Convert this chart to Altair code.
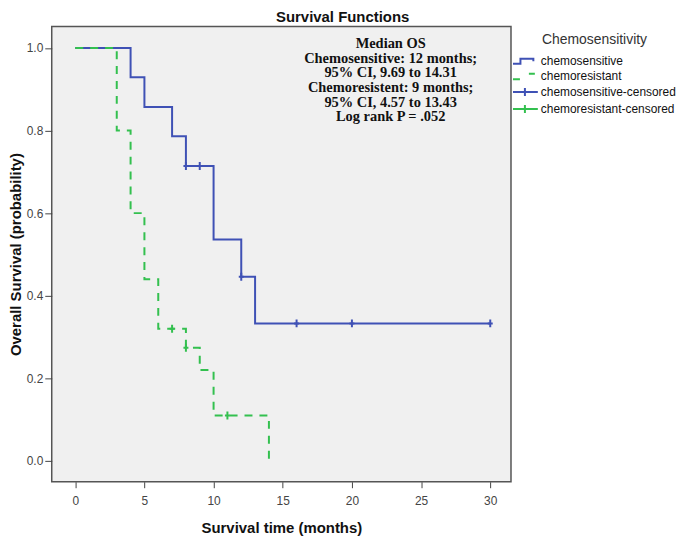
import altair as alt
import pandas as pd

# Kaplan-Meier step points (time in months, survival probability)
sens_t = [0, 4, 5, 7, 8, 10, 12, 13, 30]
sens_s = [1.0, 0.929, 0.857, 0.786, 0.714, 0.536, 0.446, 0.333, 0.333]
res_t = [0, 3, 4, 5, 6, 8, 9, 10, 14]
res_s = [1.0, 0.8, 0.6, 0.44, 0.32, 0.274, 0.22, 0.11, 0.0]

# censored observations
sens_cens_t = [8, 9, 12, 16, 20, 30]
sens_cens_s = [0.714, 0.714, 0.446, 0.333, 0.333, 0.333]
res_cens_t = [7, 8, 11]
res_cens_s = [0.32, 0.274, 0.11]

series = ["chemosensitive", "chemoresistant",
          "chemosensitive-censored", "chemoresistant-censored"]
colors = ["#3f51b5", "#33c04f", "#3f51b5", "#33c04f"]
legend_paths = [
    "M-1,0.5H0.5V-0.5H3.1V0",
    "M-1,0.6H0.4M2.2,-0.5H3.4",
    "M-1,0H4M1.4,-0.8V0.8",
    "M-1,0H4M1.4,-0.8V0.8",
]

annotation = ["Median OS",
              "Chemosensitive: 12 months;",
              "95% CI, 9.69 to 14.31",
              "Chemoresistent:  9 months;",
              "95% CI, 4.57 to 13.43",
              "Log rank P = .052"]

curves = pd.DataFrame({
    "t": sens_t + res_t,
    "s": sens_s + res_s,
    "group": ["sens"] * len(sens_t) + ["res"] * len(res_t),
})
cens = pd.DataFrame({
    "t": sens_cens_t + res_cens_t,
    "s": sens_cens_s + res_cens_s,
    "group": ["sens"] * len(sens_cens_t) + ["res"] * len(res_cens_t),
})
legend_df = pd.DataFrame({"t": [-100] * 4, "s": [0.5] * 4, "series": series})
ann_df = pd.DataFrame({"t": [22.8], "s": [1.026], "txt": [annotation]})

xsc = alt.Scale(domain=[-1.7, 31.5], nice=False, zero=False)
ysc = alt.Scale(domain=[-0.0505, 1.052], nice=False, zero=False)

xenc = alt.X("t:Q", scale=xsc, axis=alt.Axis(
    title="Survival time (months)", values=[0, 5, 10, 15, 20, 25, 30],
    grid=False, tickSize=6, labelFontSize=12, labelColor="#444",
    titleFontSize=15, titleFontWeight="bold", titleColor="#111",
    labelPadding=8, titlePadding=14, domain=False, tickColor="#444"))
yenc = alt.Y("s:Q", scale=ysc, axis=alt.Axis(
    title="Overall Survival (probability)", values=[0, 0.2, 0.4, 0.6, 0.8, 1.0],
    format=".1f", grid=False, tickSize=7, labelFontSize=12, labelColor="#444",
    titleFontSize=15, titleFontWeight="bold", titleColor="#111",
    labelPadding=2, titlePadding=3, domain=False, tickColor="#444"))

base_curves = alt.Chart(curves)
sens_line = base_curves.transform_filter(alt.datum.group == "sens").mark_line(
    interpolate="step-after", color="#3f51b5", strokeWidth=2).encode(x=xenc, y=yenc)
res_line = base_curves.transform_filter(alt.datum.group == "res").mark_line(
    interpolate="step-after", color="#33c04f", strokeWidth=2,
    strokeDash=[8, 7]).encode(x=xenc, y=yenc)

cross = "M-1,0H1M0,-1.6V1.6"
base_cens = alt.Chart(cens)
sens_pts = base_cens.transform_filter(alt.datum.group == "sens").mark_point(
    shape=cross, size=25, filled=False, color="#3f51b5", strokeWidth=2,
    opacity=1).encode(x=xenc, y=yenc)
res_pts = base_cens.transform_filter(alt.datum.group == "res").mark_point(
    shape=cross, size=25, filled=False, color="#33c04f", strokeWidth=2,
    opacity=1).encode(x=xenc, y=yenc)

legend_layer = alt.Chart(legend_df).mark_point(
    filled=False, clip=True, strokeWidth=2, size=100, opacity=1).encode(
    x=xenc, y=yenc,
    color=alt.Color("series:N", scale=alt.Scale(domain=series, range=colors),
                    legend=alt.Legend(title="\u00a0\u00a0\u00a0Chemosensitivity",
                                      orient="none",
                                      legendX=463, legendY=7,
                                      titleFontSize=14, titleFontWeight="normal",
                                      titleColor="#333", titleAnchor="middle",
                                      titlePadding=8,
                                      labelFontSize=12, labelColor="#111",
                                      labelOffset=17, symbolSize=100,
                                      symbolStrokeWidth=2, rowPadding=1)),
    shape=alt.Shape("series:N", scale=alt.Scale(domain=series, range=legend_paths),
                    legend=alt.Legend(title="\u00a0\u00a0\u00a0Chemosensitivity")),
)

ann = alt.Chart(ann_df).mark_text(
    font="Liberation Serif", fontWeight="bold", fontSize=14.5, lineHeight=14.7,
    align="center", baseline="top", color="#111").encode(
    x=alt.X("t:Q", scale=xsc), y=alt.Y("s:Q", scale=ysc), text="txt")

chart = alt.layer(sens_line, res_line, sens_pts, res_pts, legend_layer, ann).properties(
    width=462, height=458,
    padding={"left": 0, "top": 0, "right": 0, "bottom": 0},
    title=alt.TitleParams("Survival Functions", fontSize=15, fontWeight="bold",
                          color="#111", frame="bounds", anchor="middle", offset=2),
).configure(font="Liberation Sans").configure_view(
    fill="#f0f0f0", stroke="#555", strokeWidth=1.5)

chart.save("out.html", embed_options={"renderer": "svg", "actions": False})
